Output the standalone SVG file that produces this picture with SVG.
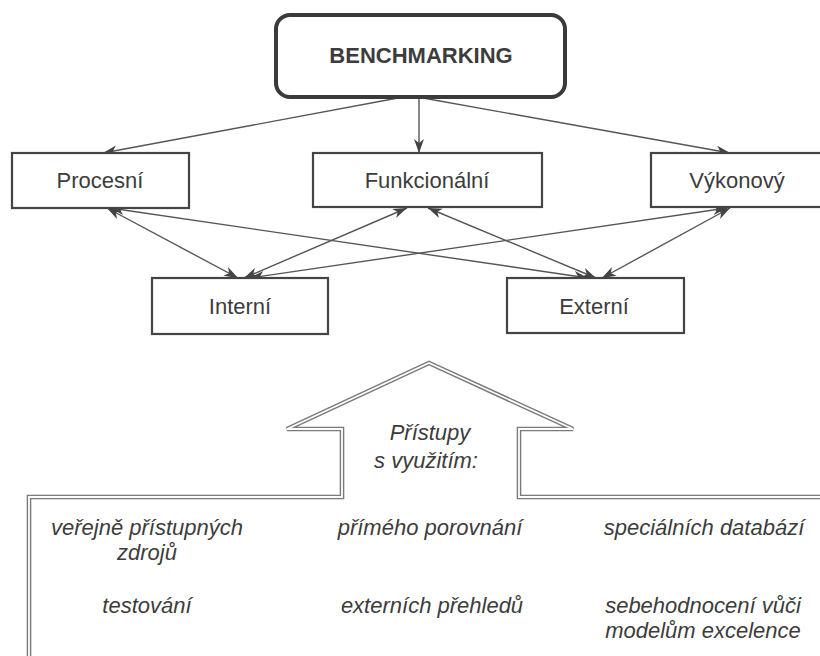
<svg xmlns="http://www.w3.org/2000/svg" width="820" height="656" viewBox="0 0 820 656">
<defs>
<style>
.box{fill:#fff;stroke:#444;stroke-width:2.2}
.main{fill:#fff;stroke:#3a3a3a;stroke-width:4}
.t{font-family:"Liberation Sans",Arial,sans-serif;font-size:22px;fill:#3c3c3c;text-anchor:middle}
.b{font-weight:bold}
.i{font-style:italic}
.c{fill:none;stroke:#555;stroke-width:1.4}
.outer{fill:none;stroke:#7a7a7a;stroke-width:4.6;stroke-linejoin:miter}
.inner{fill:none;stroke:#fff;stroke-width:1.8;stroke-linejoin:miter}
</style>
<marker id="ah" markerUnits="userSpaceOnUse" markerWidth="16" markerHeight="12" refX="14" refY="5" orient="auto-start-reverse" viewBox="0 0 16 12">
<path d="M0,0 L14,5 L0,10 L4,5 z" fill="#444"/>
</marker>
</defs>
<rect width="820" height="656" fill="#fff"/>
<g id="connectors">
<line class="c" x1="398" y1="98" x2="103" y2="153" marker-end="url(#ah)"/>
<line class="c" x1="419" y1="98" x2="419" y2="153" marker-end="url(#ah)"/>
<line class="c" x1="423" y1="98" x2="730" y2="153" marker-end="url(#ah)"/>
<line class="c" x1="107" y1="208" x2="238" y2="278" marker-start="url(#ah)" marker-end="url(#ah)"/>
<line class="c" x1="110" y1="208" x2="588" y2="278" marker-start="url(#ah)" marker-end="url(#ah)"/>
<line class="c" x1="407" y1="208" x2="244" y2="278" marker-start="url(#ah)" marker-end="url(#ah)"/>
<line class="c" x1="428" y1="208" x2="596" y2="278" marker-start="url(#ah)" marker-end="url(#ah)"/>
<line class="c" x1="727" y1="208" x2="250" y2="278" marker-start="url(#ah)" marker-end="url(#ah)"/>
<line class="c" x1="730" y1="208" x2="602" y2="278" marker-start="url(#ah)" marker-end="url(#ah)"/>
</g>
<g id="benchmarking">
<rect class="main" x="276" y="15" width="289" height="82" rx="14"/>
<text class="t b" x="421" y="63">BENCHMARKING</text>
</g>
<g id="procesni">
<rect class="box" x="12" y="153" width="177" height="55"/>
<text class="t" x="100" y="188">Procesní</text>
</g>
<g id="funkcionalni">
<rect class="box" x="313" y="153" width="229" height="54"/>
<text class="t" x="427" y="188">Funkcionální</text>
</g>
<g id="vykonovy">
<rect class="box" x="651" y="153" width="180" height="54"/>
<text class="t" x="737" y="188">Výkonový</text>
</g>
<g id="interni">
<rect class="box" x="152" y="278" width="176" height="56"/>
<text class="t" x="240" y="314">Interní</text>
</g>
<g id="externi">
<rect class="box" x="507" y="278" width="177" height="55"/>
<text class="t" x="594" y="314">Externí</text>
</g>
<g id="pristupy">
<path class="outer" d="M29,660 L29,497 L342,497 L342,429 L287,429 L429,363 L573,429 L519,429 L519,497 L824,497"/>
<path class="inner" d="M29,660 L29,497 L342,497 L342,429 L287,429 L429,363 L573,429 L519,429 L519,497 L824,497"/>
<text class="t i" x="430" y="440">Přístupy</text>
<text class="t i" x="426" y="468">s využitím:</text>
<text class="t i" x="147" y="535">veřejně přístupných</text>
<text class="t i" x="147" y="560">zdrojů</text>
<text class="t i" x="430" y="535">přímého porovnání</text>
<text class="t i" x="704" y="535">speciálních databází</text>
<text class="t i" x="147" y="613">testování</text>
<text class="t i" x="432" y="613">externích přehledů</text>
<text class="t i" x="703" y="613">sebehodnocení vůči</text>
<text class="t i" x="703" y="638">modelům excelence</text>
</g>
</svg>
